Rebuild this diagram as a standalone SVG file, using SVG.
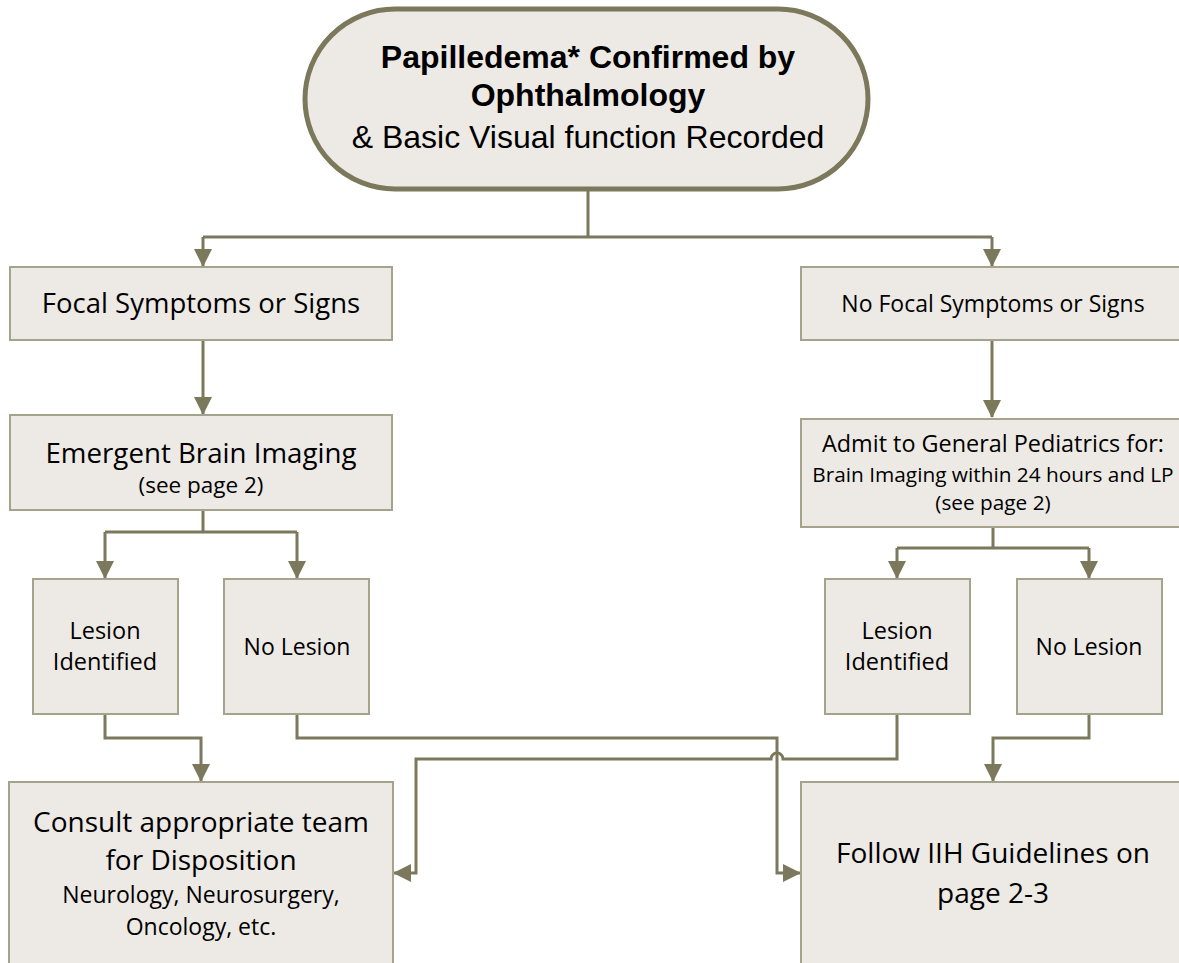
<svg xmlns="http://www.w3.org/2000/svg" width="1179" height="963" viewBox="0 0 1179 963">
<style>
.box{fill:#edeae5;stroke:#a5a38c;stroke-width:2}
.term{fill:#edeae5;stroke:#7b785c;stroke-width:5}
.conn{fill:none;stroke:#7b785c;stroke-width:3}
.c{font-family:"Open Sans","Noto Sans",sans-serif;fill:#000;text-anchor:middle}
.a{font-family:"Liberation Sans",Arial,sans-serif;fill:#000;text-anchor:middle}
</style>
<defs>
<marker id="arr" markerUnits="userSpaceOnUse" markerWidth="18" markerHeight="18" refX="17" refY="9" orient="auto">
<path d="M0,0 L18,9 L0,18 z" fill="#7b785c"/>
</marker>
</defs>
<rect width="1179" height="963" fill="#fff"/>
<g id="connectors">
<path class="conn" d="M588,190 V237"/>
<path class="conn" d="M203,237 H992"/>
<path class="conn" d="M203,237 V266" marker-end="url(#arr)"/>
<path class="conn" d="M992,237 V266" marker-end="url(#arr)"/>
<path class="conn" d="M203,340 V414" marker-end="url(#arr)"/>
<path class="conn" d="M992,340 V417" marker-end="url(#arr)"/>
<path class="conn" d="M203,510 V532 M105,532 H297"/>
<path class="conn" d="M105,532 V578" marker-end="url(#arr)"/>
<path class="conn" d="M297,532 V578" marker-end="url(#arr)"/>
<path class="conn" d="M993,527 V548 M897,548 H1089"/>
<path class="conn" d="M897,548 V578" marker-end="url(#arr)"/>
<path class="conn" d="M1089,548 V578" marker-end="url(#arr)"/>
<path class="conn" d="M105,714 V738 H201 V781" marker-end="url(#arr)"/>
<path class="conn" d="M1089,714 V738 H993 V781" marker-end="url(#arr)"/>
<path class="conn" d="M297,714 V738 H777 V873 H800" marker-end="url(#arr)"/>
<path class="conn" d="M897,714 V759 H783 A6,6 0 0 0 771,759 H416 V873 H394" marker-end="url(#arr)"/>
</g>
<g id="n-start">
<rect class="term" x="305" y="9" width="563" height="180" rx="90" ry="90"/>
<text class="a" x="588" y="68" font-size="32" font-weight="bold">Papilledema* Confirmed by</text>
<text class="a" x="588" y="106" font-size="32" font-weight="bold">Ophthalmology</text>
<text class="a" x="588" y="148" font-size="32">&amp; Basic Visual function Recorded</text>
</g>
<g id="n-focal">
<rect class="box" x="10" y="267" width="382" height="73"/>
<text class="c" x="201" y="313" font-size="27.5">Focal Symptoms or Signs</text>
</g>
<g id="n-nofocal">
<rect class="box" x="801" y="267" width="380" height="73"/>
<text class="c" x="993" y="312" font-size="23">No Focal Symptoms or Signs</text>
</g>
<g id="n-emergent">
<rect class="box" x="10" y="415" width="382" height="95"/>
<text class="c" x="201" y="463" font-size="27.7">Emergent Brain Imaging</text>
<text class="c" x="201" y="493" font-size="22.5">(see page 2)</text>
</g>
<g id="n-admit">
<rect class="box" x="801" y="419" width="380" height="108"/>
<text class="c" x="993" y="452" font-size="23.4">Admit to General Pediatrics for:</text>
<text class="c" x="993" y="482" font-size="20.8">Brain Imaging within 24 hours and LP</text>
<text class="c" x="993" y="510" font-size="20.8">(see page 2)</text>
</g>
<g id="n-lesion-l">
<rect class="box" x="33" y="579" width="145" height="135"/>
<text class="c" x="105" y="639" font-size="23.5">Lesion</text>
<text class="c" x="105" y="670" font-size="23.5">Identified</text>
</g>
<g id="n-nolesion-l">
<rect class="box" x="224" y="579" width="145" height="135"/>
<text class="c" x="297" y="655" font-size="23">No Lesion</text>
</g>
<g id="n-lesion-r">
<rect class="box" x="825" y="579" width="145" height="135"/>
<text class="c" x="897" y="639" font-size="23.5">Lesion</text>
<text class="c" x="897" y="670" font-size="23.5">Identified</text>
</g>
<g id="n-nolesion-r">
<rect class="box" x="1017" y="579" width="145" height="135"/>
<text class="c" x="1089" y="655" font-size="23">No Lesion</text>
</g>
<g id="n-consult">
<rect class="box" x="9" y="782" width="384" height="190"/>
<text class="c" x="201" y="832" font-size="28">Consult appropriate team</text>
<text class="c" x="201" y="870" font-size="28">for Disposition</text>
<text class="c" x="201" y="903" font-size="23">Neurology, Neurosurgery,</text>
<text class="c" x="201" y="935" font-size="23">Oncology, etc.</text>
</g>
<g id="n-follow">
<rect class="box" x="801" y="782" width="380" height="190"/>
<text class="c" x="993" y="863" font-size="28">Follow IIH Guidelines on</text>
<text class="c" x="993" y="903" font-size="28">page 2-3</text>
</g>
</svg>
